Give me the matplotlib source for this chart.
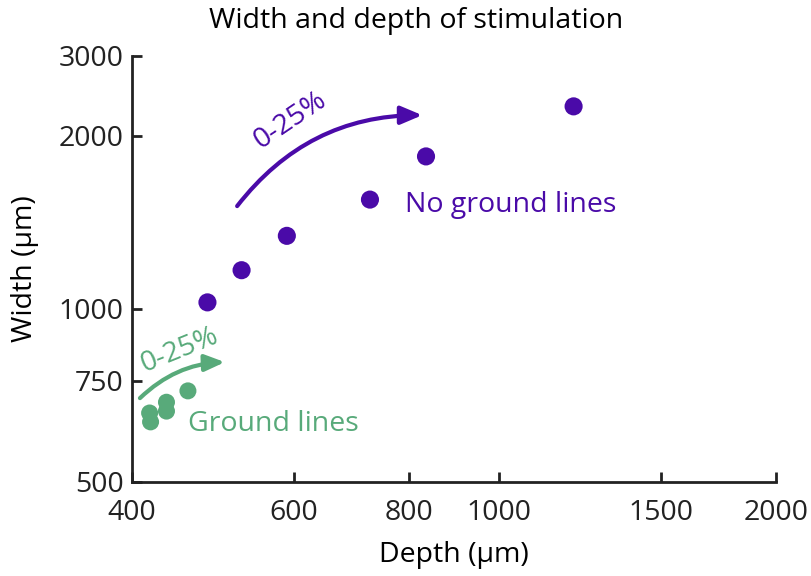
import matplotlib
matplotlib.use('Agg')
import matplotlib.pyplot as plt
from matplotlib.patches import FancyArrowPatch

plt.rcParams['font.family'] = ['Open Sans', 'DejaVu Sans']

PURPLE = '#4a0aa8'
GREEN = '#58aa7a'

# no ground lines
depth_ng = [483, 526, 589, 725, 834, 1206]
width_ng = [1026, 1167, 1339, 1548, 1840, 2248]

# ground lines
depth_g = [418, 419, 436, 436, 460]
width_g = [659, 636, 688, 664, 720]

xticks = [400, 600, 800, 1000, 1500, 2000]
yticks = [500, 750, 1000, 2000, 2750]
ytick_labels = ['500', '750', '1000', '2000', '3000']

fig = plt.figure(figsize=(8.11, 5.76), dpi=100)
ax = fig.add_axes([132 / 811, 94 / 576, 644 / 811, 426 / 576])

ax.scatter(depth_ng, width_ng, s=170, color=PURPLE, edgecolors='none', zorder=5)
ax.scatter(depth_g, width_g, s=150, color=GREEN, edgecolors='none', zorder=5)

ax.set_xscale('log')
ax.set_yscale('log')
ax.set_xlim(400, 2000)
ax.set_ylim(500, 2750)
ax.minorticks_off()
ax.set_xticks(xticks)
ax.set_xticklabels([str(t) for t in xticks])
ax.set_yticks(yticks)
ax.set_yticklabels(ytick_labels)

for s in ['top', 'right']:
    ax.spines[s].set_visible(False)
for s in ['left', 'bottom']:
    ax.spines[s].set_linewidth(2)
    ax.spines[s].set_color('#222222')
ax.tick_params(direction='in', length=7, width=2, labelsize=20.5, colors='#222222', pad=6)
ax.tick_params(axis='x', pad=12)

ax.set_xlabel('Depth (µm)', fontsize=20.5, labelpad=10)
ax.set_ylabel('Width (µm)', fontsize=20.5, labelpad=14)
fig.text(416 / 811, 1 - 21 / 576, 'Width and depth of stimulation', fontsize=20.5,
         ha='center', va='center')

# curved arrows
ax.add_patch(FancyArrowPatch((518, 1495), (832, 2170), connectionstyle='arc3,rad=-0.25',
                             arrowstyle='-|>,head_length=13,head_width=5.5', color=PURPLE,
                             linewidth=3, mutation_scale=1))
ax.add_patch(FancyArrowPatch((406, 694), (508, 808), connectionstyle='arc3,rad=-0.2',
                             arrowstyle='-|>,head_length=12,head_width=5', color=GREEN,
                             linewidth=3, mutation_scale=1))

ax.text(594, 2125, '0-25%', color=PURPLE, fontsize=20.5, rotation=34,
        ha='center', va='center')
ax.text(451, 848, '0-25%', color=GREEN, fontsize=20.5, rotation=22,
        ha='center', va='center')
ax.text(792, 1513, 'No ground lines', color=PURPLE, fontsize=20.5, ha='left', va='center')
ax.text(460, 631, 'Ground lines', color=GREEN, fontsize=20.5, ha='left', va='center')

fig.savefig('out.png', dpi=100)
